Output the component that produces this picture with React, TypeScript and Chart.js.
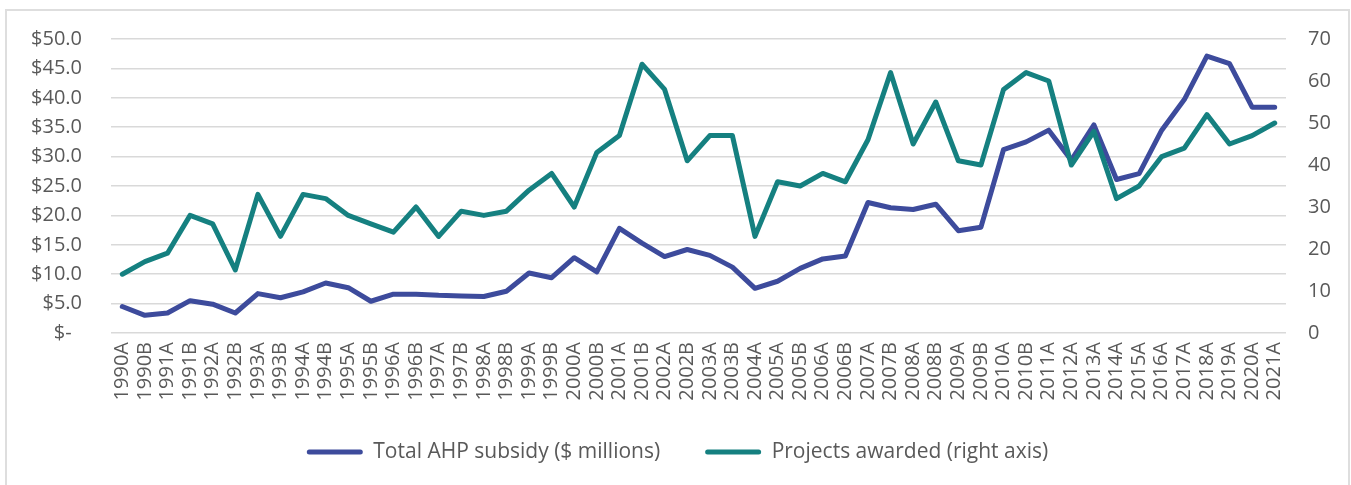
import React, { useEffect, useRef } from "react";
import { Chart, registerables } from "chart.js";

Chart.register(...registerables);

const categories = [
  "1990A", "1990B", "1991A", "1991B", "1992A", "1992B", "1993A", "1993B",
  "1994A", "1994B", "1995A", "1995B", "1996A", "1996B", "1997A", "1997B",
  "1998A", "1998B", "1999A", "1999B", "2000A", "2000B", "2001A", "2001B",
  "2002A", "2002B", "2003A", "2003B", "2004A", "2005A", "2005B", "2006A",
  "2006B", "2007A", "2007B", "2008A", "2008B", "2009A", "2009B", "2010A",
  "2010B", "2011A", "2012A", "2013A", "2014A", "2015A", "2016A", "2017A",
  "2018A", "2019A", "2020A", "2021A",
];

const ahpSubsidy = [
  4.5, 3.0, 3.4, 5.5, 4.9, 3.4, 6.7, 6.0, 7.0, 8.5, 7.7, 5.4, 6.6, 6.6, 6.4, 6.3,
  6.2, 7.1, 10.2, 9.4, 12.8, 10.4, 17.8, 15.3, 13.0, 14.2, 13.2, 11.2, 7.6, 8.8,
  11.0, 12.6, 13.1, 22.2, 21.3, 21.0, 21.9, 17.4, 18.0, 31.2, 32.5, 34.5, 29.4,
  35.4, 26.1, 27.1, 34.5, 39.7, 47.1, 45.8, 38.4, 38.4,
];

const projectsAwarded = [
  14, 17, 19, 28, 26, 15, 33, 23, 33, 32, 28, 26, 24, 30, 23, 29, 28, 29, 34, 38,
  30, 43, 47, 64, 58, 41, 47, 47, 23, 36, 35, 38, 36, 46, 62, 45, 55, 41, 40, 58,
  62, 60, 40, 48, 32, 35, 42, 44, 52, 45, 47, 50,
];

const leftTicks = [0, 5, 10, 15, 20, 25, 30, 35, 40, 45, 50];
const rightTicks = [0, 10, 20, 30, 40, 50, 60, 70];

const seriesNames = ["Total AHP subsidy ($ millions)", "Projects awarded (right axis)"];
const seriesColors = ["#3d4b9c", "#158080"];

const TEXT = "#595959";
const GRID = "#d9d9d9";
const CLEAR = "rgba(0,0,0,0)";

export default function App() {
  const ref = useRef<HTMLCanvasElement | null>(null);

  useEffect(() => {
    document.body.style.margin = "0";
    document.body.style.overflow = "hidden";
    Chart.defaults.font.family = "'Open Sans', sans-serif";
    const ctx = ref.current!;
    const chart = new Chart(ctx, {
      type: "line",
      data: {
        labels: categories,
        datasets: [
          {
            label: seriesNames[0],
            data: ahpSubsidy,
            yAxisID: "y",
            borderColor: seriesColors[0],
            backgroundColor: seriesColors[0],
            borderWidth: 5,
            pointRadius: 0,
            tension: 0,
            borderCapStyle: "round",
            borderJoinStyle: "round",
            order: 1,
          },
          {
            label: seriesNames[1],
            data: projectsAwarded,
            yAxisID: "y1",
            borderColor: seriesColors[1],
            backgroundColor: seriesColors[1],
            borderWidth: 5,
            pointRadius: 0,
            tension: 0,
            borderCapStyle: "round",
            borderJoinStyle: "round",
            order: 0,
          },
        ],
      },
      options: {
        responsive: false,
        animation: false,
        maintainAspectRatio: false,
        layout: { padding: { top: 28, bottom: 14.5, left: 0, right: 0 } },
        plugins: {
          tooltip: { enabled: false },
          legend: {
            position: "bottom",
            labels: {
              color: TEXT,
              font: { size: 21 },
              boxWidth: 56,
              boxHeight: 5,
              padding: 45,
              useBorderRadius: true,
              borderRadius: 2.5,
              sort: (a: any, b: any) => a.datasetIndex - b.datasetIndex,
              generateLabels: (c: any) =>
                Chart.defaults.plugins.legend.labels
                  .generateLabels(c)
                  .map((l: any) => ({
                    ...l,
                    lineWidth: 0,
                    fillStyle: seriesColors[l.datasetIndex],
                    strokeStyle: seriesColors[l.datasetIndex],
                    borderRadius: 2.5,
                  })),
            },
          },
        },
        scales: {
          x: {
            offset: true,
            grid: { display: false, drawTicks: false },
            border: { display: false },
            ticks: {
              color: TEXT,
              font: { size: 20 },
              minRotation: 90,
              maxRotation: 90,
              autoSkip: false,
              padding: 9,
            },
            afterFit: (s: any) => {
              s.height = 63.5;
              s._computeLabelArea = () => undefined;
            },
          },
          y: {
            position: "left",
            min: 0,
            max: 50,
            afterBuildTicks: (s: any) => {
              s.ticks = leftTicks.map((v) => ({ value: v }));
            },
            grid: {
              color: GRID,
              lineWidth: 1.5,
              drawTicks: true,
              tickLength: 25,
              tickColor: CLEAR,
            },
            border: { display: false },
            ticks: {
              color: TEXT,
              font: { size: 20 },
              padding: 4,
              autoSkip: false,
              callback: (v: any) => (Number(v) === 0 ? "$-  " : "$" + Number(v).toFixed(1)),
            },
            afterFit: (s: any) => {
              s.width = 104;
            },
          },
          y1: {
            position: "right",
            min: 0,
            max: 70,
            afterBuildTicks: (s: any) => {
              s.ticks = rightTicks.map((v) => ({ value: v }));
            },
            grid: {
              display: true,
              drawOnChartArea: false,
              color: CLEAR,
              drawTicks: true,
              tickLength: 18,
              tickColor: CLEAR,
            },
            border: { display: false },
            ticks: {
              color: TEXT,
              font: { size: 20 },
              padding: 4,
              autoSkip: false,
            },
            afterFit: (s: any) => {
              s.width = 62;
            },
          },
        },
      },
    });
    return () => chart.destroy();
  }, []);

  return (
    <div
      style={{
        position: "fixed",
        left: 5,
        top: 9,
        width: 1345,
        height: 478,
        boxSizing: "border-box",
        borderTop: "2px solid #dedede",
        borderLeft: "2px solid #dedede",
        borderRight: "2px solid #dedede",
        background: "#fff",
      }}
    >
      <canvas ref={ref} width={1341} height={476} style={{ display: "block" }} />
    </div>
  );
}
